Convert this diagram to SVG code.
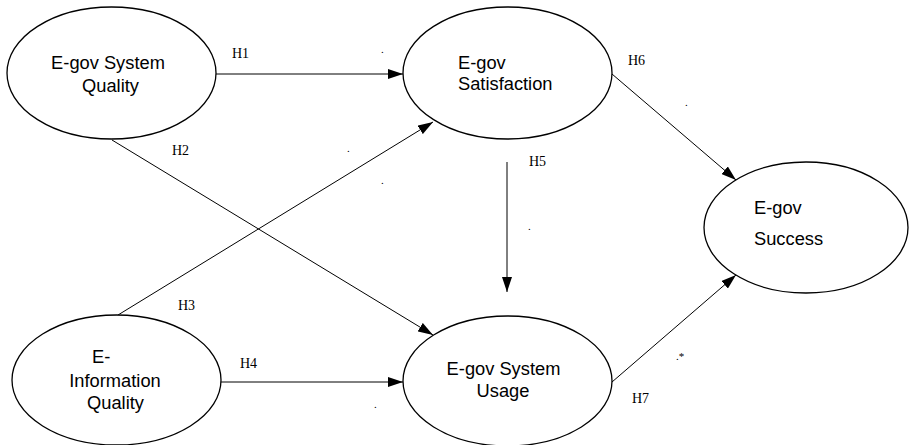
<svg xmlns="http://www.w3.org/2000/svg" width="909" height="445" viewBox="0 0 909 445">
<style>
.node ellipse{fill:#fff;stroke:#000;stroke-width:1.3}
.node text{font-family:"Liberation Sans",Arial,sans-serif;font-size:18.3px;fill:#000}
.lbl{font-family:"Liberation Serif","Times New Roman",serif;font-size:14px;fill:#000}
.dot{font-family:"Liberation Serif","Times New Roman",serif;font-size:11px;fill:#000}
.conn line{stroke:#000;stroke-width:1;fill:none}
</style>
<defs>
<marker id="arr" markerUnits="userSpaceOnUse" markerWidth="15" markerHeight="10" refX="15" refY="5" orient="auto">
<path d="M0,0 L15,5 L0,10 z" fill="#000"/>
</marker>
</defs>
<rect width="909" height="445" fill="#fff"/>
<g id="connectors" class="conn">
<line x1="216" y1="74" x2="403" y2="74" marker-end="url(#arr)"/>
<line x1="112" y1="140" x2="433" y2="335" marker-end="url(#arr)"/>
<line x1="118" y1="315" x2="433" y2="122" marker-end="url(#arr)"/>
<line x1="221" y1="382" x2="403" y2="382" marker-end="url(#arr)"/>
<line x1="507" y1="162" x2="507" y2="292" marker-end="url(#arr)"/>
<line x1="612" y1="74" x2="736" y2="180" marker-end="url(#arr)"/>
<line x1="612" y1="382" x2="736" y2="275" marker-end="url(#arr)"/>
</g>
<g id="labels">
<text class="lbl" x="232" y="58">H1</text>
<text class="lbl" x="172" y="155">H2</text>
<text class="lbl" x="178" y="310">H3</text>
<text class="lbl" x="240" y="368">H4</text>
<text class="lbl" x="529" y="166">H5</text>
<text class="lbl" x="628" y="65">H6</text>
<text class="lbl" x="632" y="403">H7</text>
<text class="dot" x="381" y="53">.</text>
<text class="dot" x="347" y="152">.</text>
<text class="dot" x="381" y="184">.</text>
<text class="dot" x="685" y="106">.</text>
<text class="dot" x="528" y="230">.</text>
<text class="dot" x="374" y="408">.</text>
<text class="dot" x="676" y="360">.*</text>
</g>
<g id="n-system-quality" class="node">
<ellipse cx="111.5" cy="73" rx="104.5" ry="66"/>
<text x="108" y="69" text-anchor="middle">E-gov System</text>
<text x="110.5" y="92" text-anchor="middle">Quality</text>
</g>
<g id="n-satisfaction" class="node">
<ellipse cx="507.5" cy="73" rx="104.5" ry="66"/>
<text x="458" y="69">E-gov</text>
<text x="458" y="90">Satisfaction</text>
</g>
<g id="n-success" class="node">
<ellipse cx="806" cy="227.5" rx="102" ry="65.5"/>
<text x="754" y="214">E-gov</text>
<text x="754" y="245">Success</text>
</g>
<g id="n-info-quality" class="node">
<ellipse cx="116.5" cy="380" rx="104.5" ry="65"/>
<text x="92" y="363">E-</text>
<text x="115" y="387" text-anchor="middle">Information</text>
<text x="115.5" y="409" text-anchor="middle">Quality</text>
</g>
<g id="n-usage" class="node">
<ellipse cx="507.5" cy="381" rx="104.5" ry="65"/>
<text x="503.5" y="375" text-anchor="middle">E-gov System</text>
<text x="503" y="397" text-anchor="middle">Usage</text>
</g>
</svg>
